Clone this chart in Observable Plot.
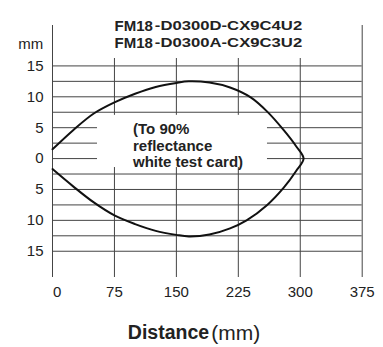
<!DOCTYPE html>
<html><head><meta charset="utf-8">
<script src="https://cdn.jsdelivr.net/npm/d3@7"></script>
<script src="https://cdn.jsdelivr.net/npm/@observablehq/plot@0.6"></script>
<style>body{margin:0;background:#fff}</style>
</head><body><div id="chart"></div>
<script>
// ---- data ----
const titlePrefix = "FM18";
const titleModels = ["-D0300D-CX9C4U2", "-D0300A-CX9C3U2"];
const yUnit = "mm";
const xLabelBold = "Distance";
const xLabelUnit = "(mm)";
const note = "(To 90%\nreflectance\nwhite test card)";
const xTicks = [0, 75, 150, 225, 300, 375];
const yTicks = [-15, -10, -5, 0, 5, 10, 15];
const yGrid = [-15, -12.5, -10, -7.5, -5, -2.5, 0, 2.5, 5, 7.5, 10, 12.5, 15];
const xGrid = [75, 150, 225, 300];
// upper edge of the detection field (left -> right, ends at the tip)
const topX = [0, 25, 50, 75, 100, 125, 150, 165, 190, 215, 240, 260, 280, 295, 304];
const topY = [1.5, 4.6, 7.3, 9.1, 10.5, 11.6, 12.25, 12.5, 12.3, 11.5, 9.9, 7.6, 4.6, 2.0, 0];
// lower edge of the detection field (left -> right, tip excluded)
const bottomX = [0, 25, 50, 75, 100, 125, 150, 165, 190, 215, 235, 260, 280, 295];
const bottomY = [-1.7, -4.5, -7.1, -9.2, -10.6, -11.7, -12.35, -12.6, -12.3, -11.3, -10.0, -7.5, -4.7, -2.0];

const pts = [
  ...topX.map((x, i) => ({x, y: topY[i]})),
  ...bottomX.map((x, i) => ({x, y: bottomY[i]})).reverse()
];

const ink = "#222", grid = "#444";

const chart = Plot.plot({
  width: 383, height: 347,
  marginLeft: 52, marginRight: 21.3, marginTop: 58, marginBottom: 70,
  x: {domain: [0, 375], label: null},
  y: {domain: [-19.25, 16.2], label: null},
  style: {fontFamily: "'Liberation Sans', Arial, sans-serif", background: "#fff", color: ink},
  marks: [
    Plot.ruleY(yGrid, {x1: 0, x2: 375, stroke: grid, strokeWidth: 1}),
    Plot.ruleX(xGrid, {stroke: grid, strokeWidth: 1}),
    Plot.ruleX([0, 375], {y1: -19.25, y2: 21.54, stroke: grid, strokeWidth: 1}),
    Plot.rect([0], {x1: 54.5, x2: 260.3, y1: -1.45, y2: 7.0, fill: "white"}),
    Plot.line(pts, {x: "x", y: "y", curve: "catmull-rom", stroke: "#111", strokeWidth: 2}),
    Plot.text([note], {x: 97.5, y: 5.8, text: d => d, textAnchor: "start", lineAnchor: "top",
      fontSize: 15, fontWeight: "bold", lineHeight: 1.083}),
    Plot.axisY(yTicks, {tickSize: 0, tickPadding: 9, tickFormat: d => Math.abs(d), fontSize: 15, label: null}),
    Plot.axisX(xTicks.slice(1), {tickSize: 0, tickPadding: 9, fontSize: 15, label: null}),
    Plot.axisX(xTicks.slice(0, 1), {tickSize: 0, tickPadding: 9, fontSize: 15, label: null, dx: 4.7}),
    Plot.text([yUnit], {x: -11.3, y: 18.48, text: d => d, textAnchor: "end", fontSize: 15}),
    Plot.text(titleModels, {x: 75.1, y: (d, i) => i === 0 ? 21.5 : 18.69, text: () => titlePrefix,
      textAnchor: "start", fontSize: 15, fontWeight: "bold"}),
    Plot.text(titleModels, {x: 302.3, y: (d, i) => i === 0 ? 21.5 : 18.69, text: d => d,
      textAnchor: "end", fontSize: 13.5, fontWeight: "bold"}),
    Plot.text([xLabelBold], {x: 91.2, y: -28.2, text: d => d, textAnchor: "start", fontSize: 19.5, fontWeight: "bold"}),
    Plot.text([xLabelUnit], {x: 192.2, y: -28.2, text: d => d, textAnchor: "start", fontSize: 21})
  ]
});

d3.select(chart).selectAll("text")
  .filter(function() { return titleModels.includes(this.textContent); })
  .attr("textLength", 147.3)
  .attr("lengthAdjust", "spacingAndGlyphs");

document.getElementById("chart").appendChild(chart);
</script>
</body></html>
